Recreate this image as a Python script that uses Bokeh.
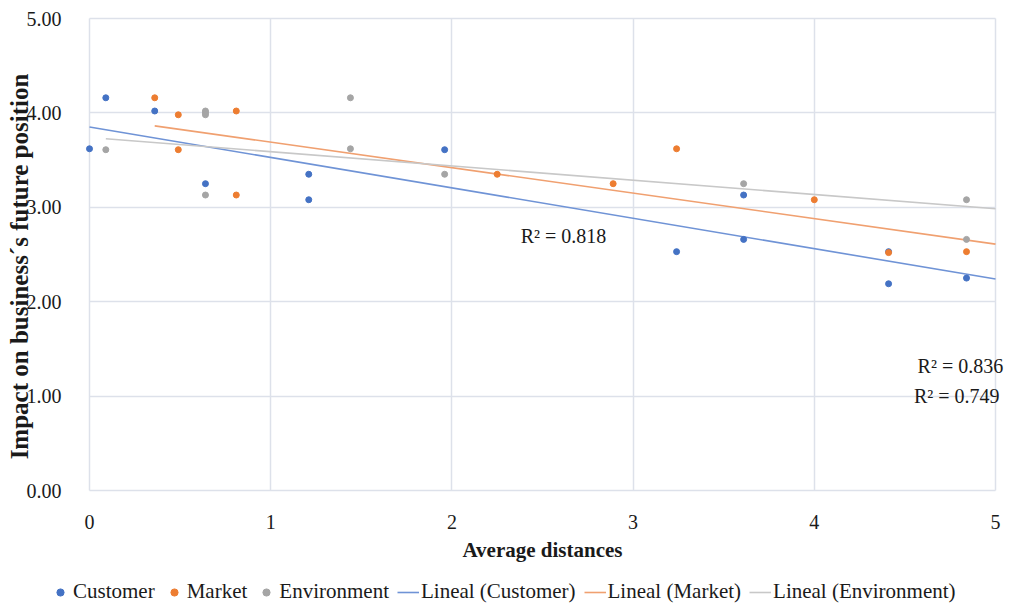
from bokeh.plotting import figure
from bokeh.models import (Range1d, FixedTicker, PrintfTickFormatter, Legend,
                          LegendItem, Label, Grid)
from bokeh.embed import file_html
from bokeh.resources import INLINE

# ---- data ----
customer_x = [0.00, 0.09, 0.36, 0.64, 1.21, 1.21, 1.96, 3.24, 3.61, 3.61, 4.41, 4.41, 4.84]
customer_y = [3.62, 4.16, 4.02, 3.25, 3.35, 3.08, 3.61, 2.53, 3.13, 2.66, 2.53, 2.19, 2.25]

market_x = [0.36, 0.49, 0.49, 0.81, 0.81, 2.25, 2.89, 3.24, 4.00, 4.41, 4.84]
market_y = [4.16, 3.98, 3.61, 4.02, 3.13, 3.35, 3.25, 3.62, 3.08, 2.52, 2.53]

environment_x = [0.09, 0.64, 0.64, 0.64, 0.64, 1.44, 1.44, 1.96, 3.61, 4.84, 4.84]
environment_y = [3.61, 4.02, 4.00, 3.98, 3.13, 4.16, 3.62, 3.35, 3.25, 3.08, 2.66]

series_names = ["Customer", "Market", "Environment"]
trend_names = ["Lineal (Customer)", "Lineal (Market)", "Lineal (Environment)"]
trend_intercepts = [3.85, 3.96, 3.74]
trend_slopes = [-0.322, -0.270, -0.151]
trend_start = [0.00, 0.36, 0.09]
trend_end = [5.0, 5.0, 5.0]

r2_texts = ["R² = 0.818", "R² = 0.836", "R² = 0.749"]
r2_x = [2.38, 4.57, 4.55]
r2_y = [2.70, 1.32, 1.00]

x_ticks = [0, 1, 2, 3, 4, 5]
y_ticks = [0, 1, 2, 3, 4, 5]
X_MIN, X_MAX = 0, 5
Y_MIN, Y_MAX = 0, 5

# ---- layout (pixels) ----
W, H = 1008, 604
PLOT_L, PLOT_R, PLOT_T, PLOT_B = 89, 995, 18, 490   # data area inside the figure
YTITLE_SHIFT_PX = 24   # y-axis title sits a little below the middle of the axis

px_per_x = (PLOT_R - PLOT_L) / (X_MAX - X_MIN)
px_per_y = (PLOT_B - PLOT_T) / (Y_MAX - Y_MIN)
xr = Range1d(X_MIN - PLOT_L / px_per_x, X_MAX + (W - PLOT_R) / px_per_x)
yr = Range1d(Y_MIN - (H - PLOT_B) / px_per_y, Y_MAX + PLOT_T / px_per_y)

# ---- styling ----
FONT = "Liberation Serif"
TXT = "#1a1a1a"
GRID = "#dde1ea"
colors = ["#4472C4", "#ED7D31", "#A5A5A5"]
trend_colors = ["#6f93d6", "#f0a070", "#c8c8c8"]

p = figure(width=W, height=H, output_backend="svg", toolbar_location=None,
           x_range=xr, y_range=yr,
           min_border_left=0, min_border_right=0, min_border_top=0,
           min_border_bottom=0)
p.outline_line_color = None
p.background_fill_color = "white"
p.border_fill_color = "white"

# grid limited to the data area
use_cross = "cross_bounds" in Grid.properties()
for g in (p.xgrid[0], p.ygrid[0]):
    g.grid_line_color = GRID
    g.grid_line_width = 1.5
p.xgrid[0].ticker = FixedTicker(ticks=x_ticks)
p.ygrid[0].ticker = FixedTicker(ticks=y_ticks)
p.xgrid[0].bounds = (X_MIN, X_MAX)
p.ygrid[0].bounds = (Y_MIN, Y_MAX)
if use_cross:
    p.xgrid[0].cross_bounds = (Y_MIN, Y_MAX)
    p.ygrid[0].cross_bounds = (X_MIN, X_MAX)
else:
    p.xgrid[0].visible = False
    p.ygrid[0].visible = False
    p.segment(x0=x_ticks, y0=[Y_MIN] * len(x_ticks), x1=x_ticks, y1=[Y_MAX] * len(x_ticks),
              line_color=GRID, line_width=1.5)
    p.segment(x0=[X_MIN] * len(y_ticks), y0=y_ticks, x1=[X_MAX] * len(y_ticks), y1=y_ticks,
              line_color=GRID, line_width=1.5)

# axes placed at the data origin (grid lines at 0 draw the visible edges)
xa, ya = p.xaxis[0], p.yaxis[0]
xa.fixed_location = Y_MIN
ya.fixed_location = X_MIN
xa.bounds = (X_MIN, X_MAX)
ya.bounds = (Y_MIN - YTITLE_SHIFT_PX / px_per_y, Y_MAX)
xa.ticker = FixedTicker(ticks=x_ticks)
ya.ticker = FixedTicker(ticks=y_ticks)
ya.formatter = PrintfTickFormatter(format="%.2f")
for ax in (xa, ya):
    ax.axis_line_color = None
    ax.major_tick_line_color = None
    ax.minor_tick_line_color = None
    ax.major_label_text_font = FONT
    ax.major_label_text_font_size = "20px"
    ax.major_label_text_color = TXT
    ax.axis_label_text_font = FONT
    ax.axis_label_text_font_style = "bold"
    ax.axis_label_text_color = TXT
xa.axis_label_text_font_size = "21px"
ya.axis_label_text_font_size = "25px"
xa.major_label_standoff = 18
xa.axis_label_standoff = 6
ya.major_label_standoff = 22
ya.axis_label_standoff = -9
xa.axis_label = "Average distances"
ya.axis_label = "Impact on business´s future position"

# trend lines
trend_renderers = []
for i in range(3):
    xs = [trend_start[i], trend_end[i]]
    ys = [trend_intercepts[i] + trend_slopes[i] * x for x in xs]
    r = p.line(xs, ys, line_color=trend_colors[i], line_width=1.6)
    trend_renderers.append(r)

# scatter points
xs_all = [customer_x, market_x, environment_x]
ys_all = [customer_y, market_y, environment_y]
point_renderers = []
for i in range(3):
    r = p.scatter(xs_all[i], ys_all[i], size=6, marker="circle",
                  fill_color=colors[i], line_color=colors[i])
    point_renderers.append(r)

# R² labels
for t, x, y in zip(r2_texts, r2_x, r2_y):
    p.add_layout(Label(x=x, y=y, text=t, text_font=FONT, text_font_size="20px",
                       text_color=TXT, text_baseline="middle", text_align="left"))

items = [LegendItem(label=series_names[i], renderers=[point_renderers[i]]) for i in range(3)]
items += [LegendItem(label=trend_names[i], renderers=[trend_renderers[i]]) for i in range(3)]
legend = Legend(items=items, orientation="horizontal", location=(49, 0),
                label_text_font=FONT, label_text_font_size="21px",
                label_text_color=TXT, glyph_width=22, glyph_height=18,
                label_height=18, label_standoff=2, spacing=8, padding=0, margin=0,
                border_line_color=None, background_fill_alpha=0)
p.add_layout(legend, "center")

open("out.html", "w").write(file_html(p, INLINE))
